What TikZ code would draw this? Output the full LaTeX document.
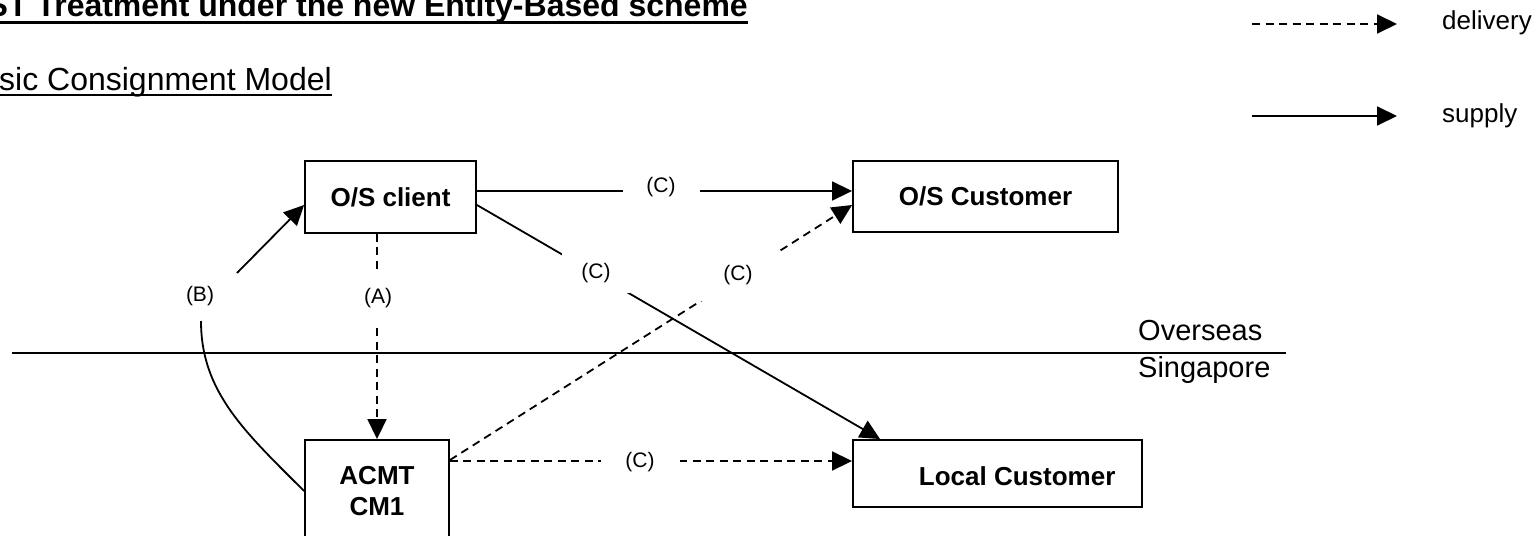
\documentclass[tikz,border=0pt]{standalone}
\usepackage{fontspec}
\setmainfont{Liberation Sans}
\usetikzlibrary{arrows.meta}
\begin{document}
\begin{tikzpicture}[x=1pt,y=-1pt,
  box/.style={draw,line width=1.9pt,inner sep=0pt,font=\fontsize{26}{31}\selectfont\bfseries,align=center},
  plain/.style={inner sep=0pt},
  lbl/.style={inner sep=0pt,font=\fontsize{21}{25}\selectfont},
  gaplbl/.style={lbl,fill=white},
  conn/.style={line width=1.8pt},
  deliv/.style={conn,dash pattern=on 8pt off 5.5pt},
  tip/.style={-{Triangle[length=20pt,width=19pt]}},
]
\useasboundingbox (0,0) rectangle (1538,535);
\clip (0,0) rectangle (1538,535);

% titles
\node[plain,anchor=base east,font=\fontsize{32}{38}\selectfont\bfseries] (title) at (748,17) {GST Treatment under the new Entity-Based scheme};
\draw[line width=3pt] ([yshift=-5.5pt]title.base west) -- ([yshift=-5.5pt]title.base east);
\node[plain,anchor=base east,font=\fontsize{32}{38}\selectfont] (sub) at (332,90) {Basic Consignment Model};
\draw[line width=2.5pt] ([yshift=-5pt]sub.base west) -- ([yshift=-5pt]sub.base east);

% legend
\node[plain,anchor=base west,font=\fontsize{26}{31}\selectfont] (legdel) at (1442,30) {delivery};
\node[plain,anchor=base west,font=\fontsize{26}{31}\selectfont] (legsup) at (1442,122) {supply};
\coordinate (l1s) at (1252,24);
\coordinate (l1e) at (1397,24);
\coordinate (l2s) at (1252,116);
\coordinate (l2e) at (1397,116);
\draw[deliv,tip] (l1s) -- (l1e);
\draw[conn,tip] (l2s) -- (l2e);

% divider
\draw[line width=2.3pt] (12,352.7) -- (1286,352.7);
\node[plain,anchor=base west,font=\fontsize{29}{35}\selectfont] (overseas) at (1138,340) {Overseas};
\node[plain,anchor=base west,font=\fontsize{29}{35}\selectfont] (singapore) at (1138,377) {Singapore};

% boxes
\node[box,minimum width=171pt,minimum height=72pt] (osclient) at (390.5,197) {O/S client};
\node[box,minimum width=265pt,minimum height=71pt] (oscust) at (985.5,196.5) {O/S Customer};
\node[box,minimum width=144pt,minimum height=102pt] (acmt) at (377,491) {ACMT\\CM1};
\node[box,minimum width=289pt,minimum height=67pt] (local) at (997.5,473.5) {};
\node[box,draw=none,anchor=west] (localtxt) at (918,476.5) {Local Customer};

% connectors
\coordinate (ytop) at (0,191);
\coordinate (ybot) at (0,461);
\draw[conn,tip] (osclient.east |- ytop) -- (oscust.west |- ytop);
\draw[deliv,tip] (acmt.north |- osclient.south) -- (acmt.north);
\draw[conn,tip] ([yshift=-8pt]osclient.east) -- ([xshift=28pt]local.north west);
\draw[deliv,tip] ([yshift=31pt]acmt.east) -- ([yshift=-8.5pt]oscust.west);
\draw[deliv,tip] (acmt.east |- ybot) -- (local.west |- ybot);
\coordinate (b1) at (201,321);
\coordinate (b2) at (237,273);
\draw[conn] (acmt.west) .. controls (245,432) and (201,392) .. (b1);
\draw[conn,tip] (b2) -- ([yshift=-8pt]osclient.west);

% labels
\node[gaplbl,minimum width=77pt,minimum height=28pt] (c1) at (661,187) {(C)};
\node[gaplbl,minimum width=68pt,minimum height=40pt] (c2) at (596,273) {(C)};
\node[gaplbl,minimum width=82pt,minimum height=52pt] (c3) at (738,275) {(C)};
\node[gaplbl,minimum width=79pt,minimum height=26pt] (c4) at (640,462) {(C)};
\node[gaplbl,minimum width=30pt,minimum height=54pt] (la) at (378,298) {(A)};
\node[lbl] (lb) at (200,296) {(B)};
\end{tikzpicture}
\end{document}
